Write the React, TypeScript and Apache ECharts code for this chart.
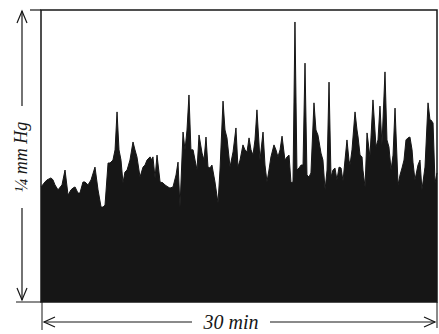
import React, { useEffect, useRef } from "react";
import * as echarts from "echarts";

// time in minutes
const times: number[] = [
  0, 0.30, 0.45, 0.76, 0.91, 1.06, 1.29, 1.59, 1.82, 2.05, 2.27, 2.42, 2.58, 2.80, 2.95, 3.18, 3.33, 3.56, 3.79, 4.09,
  4.32, 4.55, 4.70, 4.85, 5.08, 5.23, 5.45, 5.61, 5.76, 5.91, 6.06, 6.21, 6.36, 6.52, 6.74, 6.97, 7.12, 7.27, 7.50, 7.73,
  7.88, 8.03, 8.26, 8.41, 8.48, 8.64, 8.79, 9.02, 9.24, 9.39, 9.62, 9.77, 10.00, 10.23, 10.38, 10.53, 10.76, 10.91, 11.06, 11.21,
  11.36, 11.52, 11.67, 11.82, 11.97, 12.20, 12.35, 12.50, 12.65, 12.80, 12.95, 13.18, 13.41, 13.56, 13.79, 13.94, 14.09, 14.32, 14.55, 14.77,
  14.92, 15.08, 15.30, 15.45, 15.61, 15.76, 15.91, 16.06, 16.21, 16.36, 16.59, 16.82, 16.97, 17.12, 17.27, 17.42, 17.65, 17.80, 17.95, 18.11,
  18.26, 18.48, 18.64, 18.79, 18.94, 19.09, 19.24, 19.39, 19.55, 19.70, 19.85, 20.00, 20.15, 20.30, 20.45, 20.68, 20.83, 20.98, 21.21, 21.36,
  21.52, 21.67, 21.82, 21.97, 22.12, 22.27, 22.42, 22.58, 22.73, 22.88, 23.03, 23.18, 23.33, 23.41, 23.56, 23.79, 23.94, 24.02, 24.17, 24.32,
  24.39, 24.55, 24.70, 24.92, 25.15, 25.38, 25.53, 25.68, 25.83, 26.06, 26.21, 26.36, 26.52, 26.67, 26.82, 27.05, 27.20, 27.35, 27.50, 27.65,
  27.80, 27.95, 28.11, 28.18, 28.33, 28.56, 28.71, 28.86, 29.09, 29.32, 29.47, 29.55, 29.70, 29.85, 30.00,
];

// pressure as % of 1/4 mm Hg (full box height)
const pressure: number[] = [
  39.4, 41.1, 41.8, 42.5, 41.8, 40.1, 38.4, 40.1, 45.2, 36.6, 38.4, 39.0, 39.4, 37.3, 37.3, 41.1, 41.1, 40.1, 41.8, 46.2,
  38.4, 32.5, 32.5, 33.2, 47.6, 47.6, 48.6, 52.1, 65.1, 52.1, 48.6, 40.8, 44.5, 45.2, 48.6, 54.8, 52.1, 49.7, 42.8, 46.2,
  46.9, 48.6, 49.7, 48.6, 49.7, 42.5, 50.3, 41.1, 40.8, 40.1, 39.4, 39.0, 39.4, 43.5, 47.9, 32.5, 58.2, 52.1, 58.9, 70.9,
  52.1, 52.1, 48.6, 45.2, 57.2, 51.0, 48.6, 56.5, 46.2, 45.9, 46.9, 41.1, 33.9, 45.2, 68.8, 58.9, 56.2, 46.2, 51.4, 59.6,
  46.2, 48.6, 53.8, 52.1, 51.4, 56.2, 52.1, 50.3, 55.5, 65.8, 48.6, 58.2, 46.9, 41.1, 45.2, 49.7, 53.8, 52.1, 49.7, 52.1,
  56.8, 48.6, 49.7, 50.3, 40.8, 41.1, 95.9, 45.2, 45.9, 46.9, 46.9, 81.8, 43.5, 42.8, 44.2, 68.2, 58.9, 57.2, 51.0, 48.6,
  38.4, 45.2, 75.3, 42.8, 45.2, 45.9, 41.8, 46.2, 45.9, 41.4, 48.6, 55.5, 48.6, 46.9, 52.1, 65.1, 58.9, 56.5, 50.3, 49.7,
  45.2, 39.4, 57.9, 49.7, 69.2, 53.1, 55.5, 67.1, 53.8, 78.8, 55.5, 53.1, 45.2, 50.3, 66.4, 40.1, 43.5, 45.9, 48.6, 55.5,
  56.2, 56.5, 52.1, 47.9, 41.8, 46.9, 48.6, 38.4, 46.2, 68.2, 62.3, 62.3, 61.3, 40.8, 44.2,
];

const yLabel = "¼ mm Hg";
const xLabel = "30 min";

export default function App() {
  const ref = useRef<HTMLDivElement>(null);
  useEffect(() => {
    if (!ref.current) return;
    const chart = echarts.init(ref.current, undefined, { renderer: "svg" });
    const ink = "#161616";
    const lineStyle = { stroke: ink, lineWidth: 1.2 };
    const font = 'italic 20px "Liberation Serif", serif';
    const yFont = 'italic 18px "Liberation Serif", serif';
    chart.setOption({
      animation: false,
      backgroundColor: "#ffffff",
      grid: {
        left: 41,
        right: 2,
        top: 10,
        bottom: 32,
        show: true,
        borderColor: ink,
        borderWidth: 1.5,
        backgroundColor: "transparent",
      },
      xAxis: {
        type: "value",
        min: 0,
        max: 30,
        axisLine: { show: false },
        axisTick: { show: false },
        axisLabel: { show: false },
        splitLine: { show: false },
      },
      yAxis: {
        type: "value",
        min: 0,
        max: 100,
        axisLine: { show: false },
        axisTick: { show: false },
        axisLabel: { show: false },
        splitLine: { show: false },
      },
      series: [
        {
          type: "line",
          data: times.map((t, i) => [t, pressure[i]]),
          symbol: "none",
          smooth: false,
          lineStyle: { color: ink, width: 1 },
          areaStyle: { color: ink, opacity: 1 },
        },
      ],
      graphic: [
        // extension lines
        { type: "line", shape: { x1: 30, y1: 10, x2: 41, y2: 10 }, style: lineStyle },
        { type: "line", shape: { x1: 16, y1: 302, x2: 41, y2: 302 }, style: { stroke: ink, lineWidth: 1 } },
        { type: "line", shape: { x1: 42, y1: 302, x2: 42, y2: 330 }, style: { stroke: ink, lineWidth: 1 } },
        { type: "line", shape: { x1: 437, y1: 302, x2: 437, y2: 328 }, style: { stroke: ink, lineWidth: 1 } },
        // vertical dimension
        { type: "line", shape: { x1: 22, y1: 11, x2: 22, y2: 106 }, style: lineStyle },
        { type: "line", shape: { x1: 22, y1: 208, x2: 22, y2: 300 }, style: lineStyle },
        { type: "polyline", shape: { points: [[17, 23], [22, 11], [27, 23]] }, style: { ...lineStyle, fill: "none" } },
        { type: "polyline", shape: { points: [[17, 288], [22, 300], [27, 288]] }, style: { ...lineStyle, fill: "none" } },
        {
          type: "text",
          x: 21,
          y: 157,
          rotation: Math.PI / 2,
          style: { text: yLabel, font: yFont, fill: ink, align: "center", verticalAlign: "middle" },
        },
        // horizontal dimension
        { type: "line", shape: { x1: 44, y1: 322, x2: 192, y2: 322 }, style: lineStyle },
        { type: "line", shape: { x1: 270, y1: 322, x2: 435, y2: 322 }, style: lineStyle },
        { type: "polyline", shape: { points: [[55, 317], [44, 322], [55, 327]] }, style: { ...lineStyle, fill: "none" } },
        { type: "polyline", shape: { points: [[424, 317], [435, 322], [424, 327]] }, style: { ...lineStyle, fill: "none" } },
        {
          type: "text",
          x: 231,
          y: 322,
          style: { text: xLabel, font, fill: ink, align: "center", verticalAlign: "middle" },
        },
      ],
    });
    return () => chart.dispose();
  }, []);
  return (
    <div
      ref={ref}
      style={{ position: "fixed", left: 0, top: 0, width: 439, height: 334, background: "#fff" }}
    />
  );
}
